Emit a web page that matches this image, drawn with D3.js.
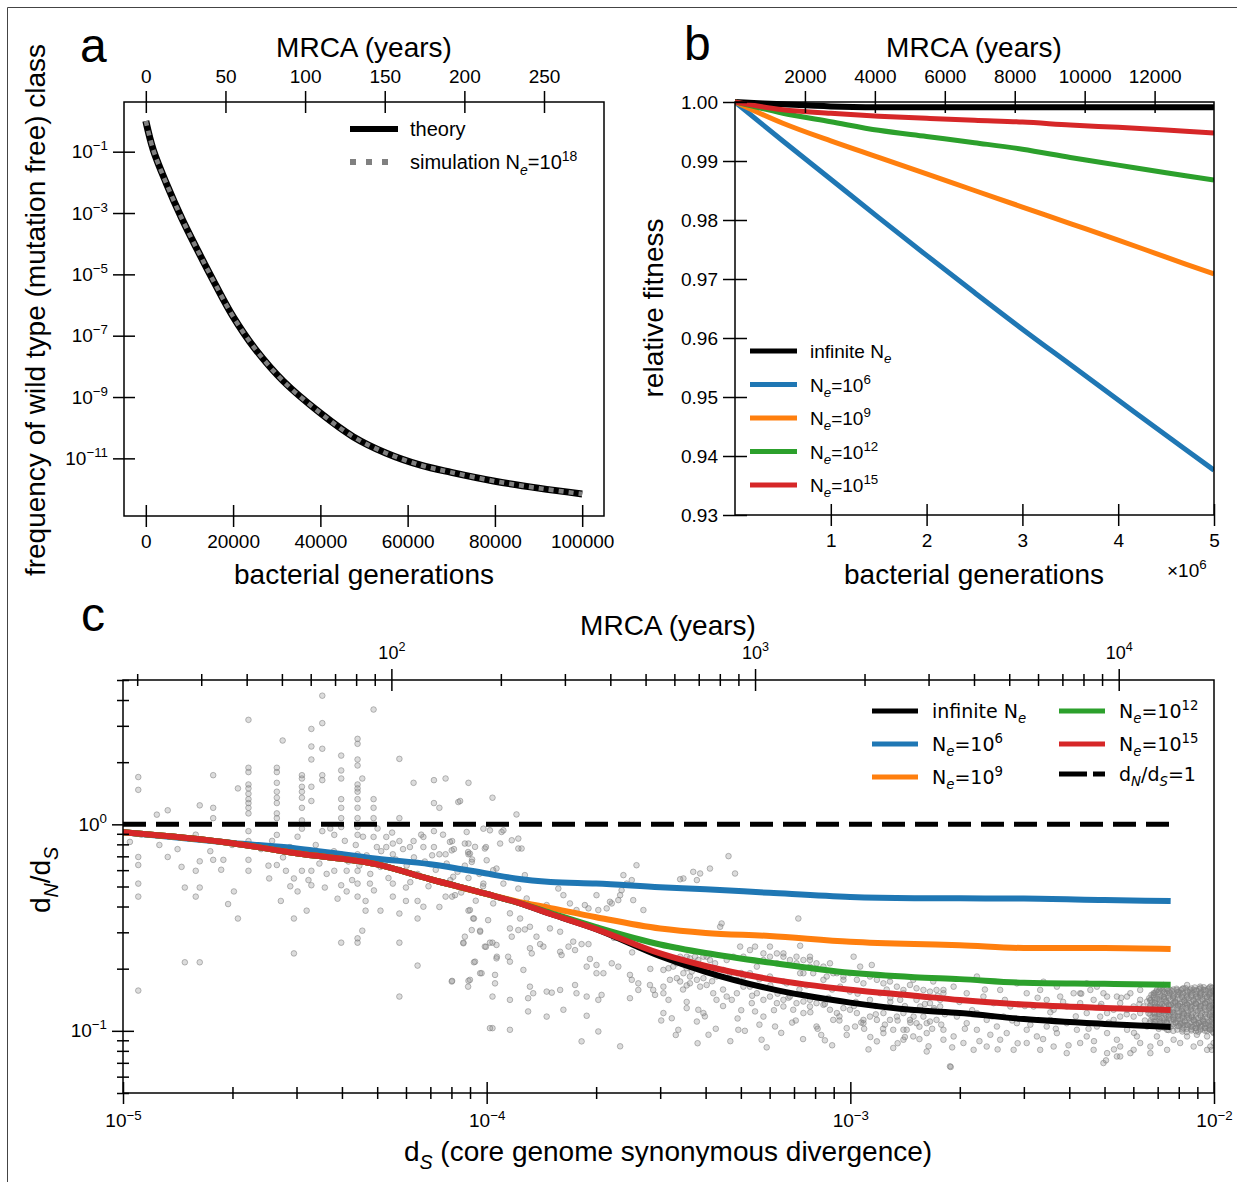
<!DOCTYPE html>
<html>
<head>
<meta charset="utf-8">
<script src="https://cdn.jsdelivr.net/npm/d3@7"></script>
<style>
  body { margin: 0; background: #fff; }
  svg { display: block; }
</style>
</head>
<body>
<script>
// ---------- data ----------
// panel a: frequency of the mutation-free class vs generations
const genA = [0, 1700, 4700, 8200, 12000, 15800, 20000, 25000, 31500, 40000, 47500, 55000, 63000, 70000, 80000, 90000, 100000];
const theoryA = [1, 0.115, 9.3e-3, 6.9e-4, 5.6e-5, 5.1e-6, 4.2e-7, 3.8e-8, 3.3e-9, 3.0e-10, 5.1e-11, 1.5e-11, 6.0e-12, 3.5e-12, 1.8e-12, 1.07e-12, 6.9e-13];
const simulationA = [1, 0.115, 9.3e-3, 6.9e-4, 5.6e-5, 5.1e-6, 4.2e-7, 3.8e-8, 3.3e-9, 3.0e-10, 5.1e-11, 1.5e-11, 6.0e-12, 3.5e-12, 1.8e-12, 1.07e-12, 6.9e-13];
const topTicksA = [0, 50, 100, 150, 200, 250];
const bottomTicksA = [0, 20000, 40000, 60000, 80000, 100000];
const yTicksA = [1e-1, 1e-3, 1e-5, 1e-7, 1e-9, 1e-11];

// panel b: relative fitness vs generations
const genB = [0, 0.5e6, 1e6, 1.5e6, 2e6, 2.5e6, 3e6, 3.5e6, 4e6, 4.5e6, 5e6];
const fitInf = [1.0, 0.9996, 0.99925, 0.9991, 0.9991, 0.9991, 0.9991, 0.9991, 0.9991, 0.9991, 0.9991];
const fit6   = [1.0, 0.9934, 0.9869, 0.9804, 0.9740, 0.9677, 0.9615, 0.9555, 0.9495, 0.9435, 0.9376];
const fit9   = [1.0, 0.9964, 0.9934, 0.9906, 0.9878, 0.9850, 0.9822, 0.9794, 0.9766, 0.9737, 0.97085];
const fit12  = [1.0, 0.9981, 0.99665, 0.9952, 0.99415, 0.9931, 0.9920, 0.9906, 0.9893, 0.9880, 0.98678];
const fit15  = [1.0, 0.9987, 0.9981, 0.9976, 0.99725, 0.9969, 0.9966, 0.9961, 0.9957, 0.99525, 0.99475];
const topTicksB = [2000, 4000, 6000, 8000, 10000, 12000];
const bottomTicksB = [1e6, 2e6, 3e6, 4e6, 5e6];
const yTicksB = [0.93, 0.94, 0.95, 0.96, 0.97, 0.98, 0.99, 1.00];

// panel c: dN/dS vs dS
const dsC = [1e-5, 2e-5, 3e-5, 5e-5, 7e-5, 1e-4, 1.2e-4, 1.5e-4, 2e-4, 3e-4, 4e-4, 6e-4, 1e-3, 1.5e-3, 2e-3, 3e-3, 5e-3, 7.6e-3];
const dndsInf = [0.915, 0.81, 0.724, 0.64, 0.542, 0.46, 0.421, 0.368, 0.311, 0.230, 0.193, 0.160, 0.137, 0.126, 0.122, 0.114, 0.108, 0.1045];
const dnds6   = [0.915, 0.812, 0.765, 0.682, 0.641, 0.578, 0.547, 0.526, 0.517, 0.496, 0.485, 0.466, 0.445, 0.439, 0.438, 0.437, 0.430, 0.425];
const dnds9   = [0.915, 0.81, 0.724, 0.64, 0.542, 0.46, 0.425, 0.393, 0.355, 0.313, 0.298, 0.288, 0.270, 0.263, 0.260, 0.252, 0.252, 0.249];
const dnds12  = [0.915, 0.81, 0.724, 0.64, 0.542, 0.46, 0.421, 0.372, 0.318, 0.262, 0.238, 0.214, 0.191, 0.182, 0.178, 0.171, 0.169, 0.167];
const dnds15  = [0.915, 0.81, 0.724, 0.64, 0.542, 0.46, 0.421, 0.368, 0.311, 0.237, 0.206, 0.178, 0.158, 0.148, 0.141, 0.134, 0.129, 0.126];
const neutralDs = [1e-5, 7.6e-3];
const neutralDnds = [1, 1];
const yearsPerDs = 1 / 5.47e-7; // MRCA years per unit of dS (top axis)

// genome pairs, [log10 dS, log10 dN/dS]
const scatterSparse = [[-4.958,0.229],[-4.958,0.167],[-4.981,-0.085],[-4.958,-0.158],[-4.958,-0.197],[-4.958,-0.287],[-4.958,-0.350],[-4.958,-0.805],[-4.907,0.047],[-4.877,0.068],[-4.877,-0.158],[-4.839,-0.206],[-4.830,-0.306],[-4.800,-0.225],[-4.800,-0.350],[-4.789,0.092],[-4.789,-0.306],[-4.789,-0.179],[-4.789,-0.668],[-4.830,-0.668],[-4.752,0.238],[-4.752,0.080],[-4.752,0.030],[-4.752,-0.172],[-4.724,-0.172],[-4.711,-0.386],[-4.695,-0.325],[-4.684,-0.456],[-4.684,0.174],[-4.655,0.274],[-4.655,0.253],[-4.655,0.193],[-4.655,0.174],[-4.655,0.148],[-4.655,0.122],[-4.655,0.103],[-4.655,0.080],[-4.655,0.053],[-4.655,-0.033],[-4.655,-0.081],[-4.655,-0.172],[-4.655,-0.225],[-4.655,0.506],[-4.598,-0.262],[-4.577,0.274],[-4.577,0.253],[-4.577,0.201],[-4.577,0.158],[-4.577,0.129],[-4.577,0.103],[-4.577,0.053],[-4.577,0.030],[-4.577,-0.051],[-4.577,-0.197],[-4.566,-0.371],[-4.561,0.406],[-4.552,-0.225],[-4.541,-0.110],[-4.530,-0.262],[-4.530,-0.456],[-4.530,-0.625],[-4.520,-0.325],[-4.508,0.238],[-4.508,0.182],[-4.508,0.158],[-4.508,0.129],[-4.508,0.080],[-4.508,0.019],[-4.508,-0.021],[-4.508,0.222],[-4.508,-0.225],[-4.495,-0.418],[-4.482,-0.295],[-4.482,0.377],[-4.482,0.314],[-4.482,0.182],[-4.482,0.113],[-4.482,-0.225],[-4.482,0.462],[-4.452,0.490],[-4.452,0.623],[-4.452,0.238],[-4.452,0.214],[-4.452,-0.033],[-4.445,-0.306],[-4.452,0.366],[-4.419,-0.051],[-4.419,-0.225],[-4.400,0.333],[-4.400,0.261],[-4.400,0.222],[-4.400,0.122],[-4.400,0.080],[-4.400,0.030],[-4.400,-0.013],[-4.400,-0.145],[-4.400,-0.295],[-4.400,-0.573],[-4.385,-0.225],[-4.385,-0.325],[-4.355,0.414],[-4.355,0.390],[-4.355,0.314],[-4.355,0.285],[-4.355,0.193],[-4.355,0.174],[-4.355,0.158],[-4.355,0.122],[-4.355,0.080],[-4.355,0.030],[-4.355,-0.013],[-4.355,-0.051],[-4.355,-0.145],[-4.355,-0.225],[-4.355,-0.287],[-4.355,-0.350],[-4.355,-0.573],[-4.355,-0.552],[-4.342,-0.515],[-4.342,0.222],[-4.333,-0.418],[-4.333,-0.371],[-4.321,-0.287],[-4.311,0.556],[-4.311,0.122],[-4.311,0.080],[-4.311,0.030],[-4.311,-0.061],[-4.302,-0.110],[-4.292,-0.206],[-4.292,-0.418],[-4.276,-0.061],[-4.276,-0.110],[-4.258,-0.145],[-4.258,-0.287],[-4.258,-0.350],[-4.258,-0.093],[-4.240,0.030],[-4.240,-0.573],[-4.240,0.317],[-4.240,-0.432],[-4.240,-0.834],[-4.240,-0.081],[-4.222,-0.306],[-4.222,-0.371],[-4.211,-0.110],[-4.201,0.201],[-4.201,-0.081],[-4.190,-0.684],[-4.190,-0.456],[-4.190,-0.371],[-4.174,-0.061],[-4.174,-0.110],[-4.174,-0.399],[-4.145,0.103],[-4.145,-0.033],[-4.145,-0.110],[-4.145,0.214],[-4.130,0.080],[-4.130,-0.145],[-4.113,-0.145],[-4.113,-0.350],[-4.113,0.222],[-4.095,-0.758],[-4.095,-0.350],[-4.095,-0.081],[-4.073,0.113],[-4.064,-0.573],[-4.050,0.201],[-4.050,-0.093],[-4.050,-0.145],[-4.050,-0.418],[-4.050,-0.758],[-4.035,-0.456],[-4.035,-0.668],[-4.018,-0.515],[-4.018,-0.721],[-4.002,-0.593],[-4.002,-0.110],[-3.984,-0.834],[-3.984,-0.987],[-3.984,0.129],[-3.984,-0.573],[-3.972,-0.641],
[-4.62,-0.12],[-4.60,-0.20],[-4.59,-0.08],[-4.56,-0.16],[-4.54,-0.30],[-4.52,-0.06],[-4.50,-0.14],[-4.49,-0.27],[-4.47,-0.10],[-4.46,-0.19],[-4.44,-0.24],[-4.43,-0.02],[-4.42,-0.13],[-4.41,-0.36],[-4.39,-0.08],[-4.38,-0.18],[-4.37,-0.27],[-4.36,-0.10],[-4.35,-0.20],[-4.34,-0.06],[-4.33,-0.15],[-4.32,-0.24],[-4.31,-0.32],[-4.30,-0.02],[-4.29,-0.13],[-4.28,-0.19],[-4.27,-0.26],[-4.26,-0.04],[-4.25,-0.17],[-4.24,-0.22],[-4.23,-0.12],[-4.22,-0.20],[-4.21,-0.28],[-4.20,-0.16],[-4.19,-0.24],[-4.18,-0.05],[-4.17,-0.18],[-4.16,-0.30],[-4.15,-0.15],[-4.14,-0.22],[-4.13,-0.40],[-4.12,-0.05],[-4.11,-0.19],[-4.10,-0.27],[-4.09,-0.12],[-4.08,-0.23],[-4.07,-0.33],[-4.06,-0.20],[-4.05,-0.26],[-4.04,-0.17],[-4.03,-0.37],[-4.02,-0.24],[-4.01,-0.30],[-4.70,-0.10],[-4.73,-0.22],[-4.76,-0.13],[-4.80,-0.05],[-4.85,-0.12],[-4.90,-0.10],[-4.95,-0.05]];

const scatterMid = [[-4.078,0.108],[-3.918,0.048],[-4.055,-0.037],[-4.009,-0.021],[-3.991,-0.029],[-3.959,-0.037],[-3.954,-0.029],[-4.101,-0.085],[-4.060,-0.093],[-4.096,-0.126],[-4.051,-0.134],[-4.046,-0.142],[-4.032,-0.109],[-4.005,-0.117],[-3.963,-0.093],[-3.931,-0.077],[-3.913,-0.069],[-3.913,-0.117],[-3.904,-0.117],[-4.000,-0.174],[-4.041,-0.182],[-3.982,-0.222],[-3.973,-0.214],[-4.092,-0.254],[-4.009,-0.287],[-3.954,-0.287],[-3.895,-0.246],[-4.087,-0.343],[-3.913,-0.311],[-3.890,-0.359],[-3.982,-0.383],[-4.046,-0.415],[-4.037,-0.456],[-3.996,-0.464],[-3.936,-0.431],[-3.908,-0.456],[-3.835,-0.391],[-3.826,-0.504],[-3.881,-0.496],[-3.913,-0.512],[-3.895,-0.509],[-4.041,-0.512],[-4.018,-0.520],[-4.060,-0.544],[-4.064,-0.576],[-4.005,-0.592],[-3.991,-0.573],[-3.973,-0.584],[-3.936,-0.504],[-3.931,-0.544],[-3.941,-0.641],[-3.973,-0.649],[-4.032,-0.665],[-3.936,-0.665],[-3.863,-0.544],[-3.844,-0.592],[-3.853,-0.580],[-3.881,-0.600],[-3.876,-0.625],[-3.798,-0.520],[-3.762,-0.568],[-3.757,-0.609],[-3.798,-0.617],[-3.794,-0.633],[-3.775,-0.592],[-3.739,-0.580],[-3.720,-0.580],[-3.716,-0.652],[-3.698,-0.681],[-3.656,-0.673],[-3.679,-0.721],[-3.725,-0.689],[-3.899,-0.705],[-3.977,-0.729],[-4.014,-0.721],[-3.977,-0.770],[-4.046,-0.753],[-4.051,-0.786],[-4.096,-0.761],[-3.936,-0.850],[-3.881,-0.786],[-3.872,-0.818],[-3.886,-0.842],[-3.835,-0.810],[-3.821,-0.815],[-3.798,-0.802],[-3.757,-0.778],[-3.753,-0.818],[-3.725,-0.834],[-3.693,-0.850],[-3.684,-0.826],[-3.698,-0.721],[-3.638,-0.689],[-3.606,-0.729],[-3.601,-0.753],[-3.583,-0.770],[-3.606,-0.842],[-3.583,-0.802],[-3.551,-0.778],[-3.542,-0.802],[-3.514,-0.786],[-3.514,-0.818],[-3.537,-0.826],[-3.496,-0.753],[-3.886,-0.906],[-3.835,-0.931],[-3.789,-0.898],[-3.725,-0.927],[-3.991,-0.987],[-3.936,-0.995],[-3.693,-1.003],[-3.739,-1.051],[-3.633,-1.075],[-3.588,-0.198],[-3.624,-0.246],[-3.629,-0.319],[-3.638,-0.367],[-3.633,-0.343],[-3.698,-0.343],[-3.656,-0.383],[-3.661,-0.375],[-3.670,-0.407],[-3.693,-0.415],[-3.720,-0.407],[-3.730,-0.391],[-3.753,-0.415],[-3.771,-0.383],[-3.789,-0.343],[-3.803,-0.311],[-3.569,-0.415],[-3.597,-0.367],[-3.615,-0.287],[-3.601,-0.270],[-3.459,-0.262],[-3.468,-0.266],[-3.422,-0.270],[-3.432,-0.230],[-3.413,-0.238],[-3.386,-0.214],[-3.335,-0.154],[-3.317,-0.238],[-3.354,-0.480],[-3.358,-0.496],[-3.143,-0.456],[-3.138,-0.588],
[-3.514,-0.705],[-3.500,-0.697],[-3.487,-0.689],[-3.477,-0.673],[-3.468,-0.641],[-3.459,-0.657],[-3.450,-0.641],[-3.441,-0.649],[-3.427,-0.641],[-3.418,-0.657],[-3.404,-0.641],[-3.395,-0.641],[-3.386,-0.657],[-3.372,-0.673],[-3.459,-0.721],[-3.441,-0.737],[-3.422,-0.753],[-3.404,-0.745],[-3.477,-0.745],[-3.468,-0.761],[-3.441,-0.770],[-3.413,-0.786],[-3.395,-0.778],[-3.368,-0.737],[-3.349,-0.705],[-3.331,-0.721],[-3.312,-0.753],[-3.294,-0.737],[-3.276,-0.721],[-3.257,-0.689],[-3.239,-0.657],[-3.221,-0.641],[-3.202,-0.625],[-3.184,-0.641],[-3.166,-0.657],[-3.148,-0.673],[-3.129,-0.657],[-3.111,-0.641],[-3.093,-0.673],[-3.074,-0.689],[-3.056,-0.673],[-3.037,-0.721],[-3.019,-0.753],[-3.001,-0.721],[-2.982,-0.753],[-2.964,-0.770],[-2.946,-0.737],[-2.927,-0.753],[-2.909,-0.770],[-2.891,-0.761],[-2.872,-0.786],[-2.854,-0.802],[-2.836,-0.778],[-2.818,-0.794],[-2.799,-0.802],[-2.781,-0.810],[-2.763,-0.802],[-2.744,-0.818],[-3.276,-0.786],[-3.257,-0.818],[-3.239,-0.850],[-3.221,-0.834],[-3.202,-0.866],[-3.184,-0.850],[-3.166,-0.834],[-3.148,-0.866],[-3.129,-0.858],[-3.111,-0.882],[-3.093,-0.866],[-3.074,-0.874],[-3.056,-0.898],[-3.037,-0.914],[-3.019,-0.890],[-3.001,-0.898],[-2.982,-0.914],[-2.964,-0.947],[-2.946,-0.931],[-2.927,-0.947],[-2.909,-0.914],[-2.891,-0.947],[-2.872,-0.931],[-2.854,-0.914],[-2.836,-0.947],[-2.818,-0.963],[-2.799,-0.931],[-2.781,-0.955],[-2.763,-0.947],[-2.744,-0.995],[-2.909,-1.011],[-2.882,-0.995],[-2.854,-0.995],[-2.827,-1.027],[-2.790,-1.011],[-2.927,-1.051],[-2.882,-1.083],[-2.854,-1.043],[-2.785,-1.075],[-2.744,-1.043],[-3.093,-0.979],[-3.070,-1.046],[-3.047,-0.947],[-3.010,-0.987],[-2.987,-0.979],[-2.964,-0.963],[-3.244,-1.043],[-3.207,-0.979],[-3.308,-0.995],[-3.390,-1.019],[-3.422,-0.955],[-3.473,-0.995],[-3.491,-0.939],[-3.450,-0.890],[-3.418,-0.898],[-3.404,-0.914],[-3.514,-0.914],[-3.368,-0.850],[-3.377,-0.818],[-3.340,-0.834],[-3.326,-0.850],[-3.312,-0.818],[-3.294,-0.786],[-3.271,-0.866],[-3.262,-0.906],[-3.239,-0.931],[-3.184,-0.882],[-3.157,-0.898],[-3.129,-0.914],[-3.111,-0.850],[-3.184,-0.761],[-3.138,-0.721],[-3.111,-0.689],[-3.065,-0.737],[-3.028,-0.786],[-3.001,-0.810],[-2.946,-0.850],[-2.918,-0.818],[-2.863,-0.850],[-2.818,-0.850],[-2.781,-0.866],[-2.753,-0.882],[-2.726,-1.172],[-3.175,-0.770],[-3.221,-0.737],[-3.294,-0.641],[-3.276,-0.609],[-3.239,-0.625],[-3.202,-0.673],[-2.991,-0.641],[-2.941,-0.681],[-3.111,-0.657],[-3.129,-0.721],[-3.047,-0.721],[-2.973,-0.689],[-2.891,-0.737],[-2.827,-0.753],[-2.772,-0.761],[-3.450,-0.697],[-3.436,-0.713],[-3.404,-0.705],[-3.377,-0.705],[-3.340,-0.657],[-3.322,-0.641],[-3.303,-0.592],[-3.262,-0.592],[-3.221,-0.592],[-3.184,-0.625],[-3.148,-0.641],[-3.102,-0.721],[-3.074,-0.753],[-3.019,-0.737],
[-3.05,-0.80],[-3.03,-0.95],[-3.08,-1.02],[-3.12,-0.78],[-3.16,-0.96],[-3.20,-0.82],[-3.25,-0.75],[-3.30,-0.90],[-3.35,-0.80],[-3.40,-0.70],[-3.45,-0.78],[-3.50,-0.85],[-3.55,-0.70],[-3.60,-0.62],[-3.65,-0.55],
[-3.52,-0.95],[-3.48,-1.02],[-3.45,-0.86],[-3.42,-1.06],[-3.40,-0.93],[-3.37,-0.99],[-3.35,-0.88],[-3.33,-1.05],[-3.31,-0.94],[-3.29,-1.00],[-3.27,-0.83],[-3.25,-0.97],[-3.23,-1.08],[-3.21,-0.90],[-3.19,-1.01],[-3.17,-0.84],[-3.15,-0.95],[-3.13,-1.04],[-3.11,-0.91],[-3.09,-0.99],[-3.07,-0.87],[-3.05,-1.07],[-3.03,-0.93],[-3.01,-1.02],[-2.99,-0.88],[-2.97,-0.96],[-2.95,-1.09],[-2.93,-0.92],[-2.91,-0.99],[-2.89,-0.86],[-2.87,-0.95],[-2.85,-1.03],[-2.83,-0.90],[-2.81,-0.98],[-2.79,-1.10],[-2.77,-0.89],[-2.75,-0.97],[-3.46,-0.80],[-3.38,-0.76],[-3.30,-0.72],[-3.22,-0.78],[-3.14,-0.80],[-3.06,-0.84],[-2.98,-0.82],[-2.90,-0.80]];

const scatterDense = [[-2.716,-0.786],[-2.680,-0.818],[-2.652,-0.737],[-2.634,-0.834],[-2.606,-0.866],[-2.588,-0.802],[-2.560,-0.882],[-2.542,-0.770],[-2.515,-0.818],[-2.496,-0.882],[-2.478,-0.802],[-2.460,-0.850],[-2.441,-0.898],[-2.423,-0.834],[-2.405,-0.882],[-2.386,-0.818],[-2.368,-0.866],[-2.350,-0.914],[-2.331,-0.850],[-2.313,-0.882],[-2.294,-0.834],[-2.276,-0.898],[-2.258,-0.866],[-2.239,-0.834],[-2.221,-0.882],[-2.203,-0.850],[-2.184,-0.898],[-2.166,-0.834],[-2.707,-0.931],[-2.680,-0.963],[-2.652,-0.995],[-2.625,-0.947],[-2.597,-0.979],[-2.570,-1.011],[-2.542,-0.963],[-2.515,-0.995],[-2.487,-1.027],[-2.460,-0.979],[-2.432,-1.011],[-2.405,-0.963],[-2.377,-0.995],[-2.350,-1.027],[-2.322,-0.979],[-2.294,-1.011],[-2.267,-1.043],[-2.239,-0.995],[-2.212,-1.027],[-2.184,-0.979],[-2.157,-1.027],[-2.129,-0.995],[-2.716,-1.027],[-2.689,-1.059],[-2.661,-1.092],[-2.625,-1.076],[-2.588,-1.043],[-2.551,-1.092],[-2.515,-1.059],[-2.478,-1.092],[-2.441,-1.076],[-2.405,-1.108],[-2.368,-1.059],[-2.331,-1.092],[-2.294,-1.108],[-2.258,-1.076],[-2.221,-1.092],[-2.175,-1.108],[-2.129,-1.092],[-2.093,-1.059],[-2.056,-1.076],[-2.019,-1.092],[-2.724,-1.175],[-2.297,-1.143],[-2.267,-1.124],[-2.615,-1.019],[-2.579,-0.931],[-2.450,-0.947],[-2.350,-0.770],[-2.322,-0.786],[-2.469,-0.762],[-2.652,-0.914],[-2.744,-0.802],[-2.753,-0.850],[-2.771,-0.898],[-2.790,-0.963],[-2.808,-0.882],[-2.826,-0.931],[-2.845,-0.995],[-2.854,-0.818],
[-2.175,-0.850],[-2.166,-0.818],[-2.157,-0.802],[-2.148,-0.834],[-2.139,-0.794],[-2.129,-0.818],[-2.120,-0.802],[-2.111,-0.834],[-2.102,-0.802],[-2.093,-0.818],[-2.084,-0.794],[-2.074,-0.834],[-2.065,-0.810],[-2.056,-0.802],[-2.047,-0.834],[-2.038,-0.818],[-2.029,-0.802],[-2.019,-0.834],[-2.010,-0.818],[-2.001,-0.810],[-2.175,-0.882],[-2.162,-0.866],[-2.148,-0.882],[-2.134,-0.858],[-2.120,-0.874],[-2.106,-0.866],[-2.093,-0.882],[-2.079,-0.866],[-2.065,-0.882],[-2.051,-0.866],[-2.038,-0.882],[-2.024,-0.866],[-2.010,-0.882],[-2.001,-0.874],[-2.166,-0.914],[-2.152,-0.931],[-2.139,-0.906],[-2.125,-0.922],[-2.111,-0.914],[-2.097,-0.931],[-2.084,-0.914],[-2.070,-0.931],[-2.056,-0.947],[-2.042,-0.963],[-2.029,-0.955],[-2.015,-0.971],[-2.001,-0.963],[-2.065,-0.979],[-2.051,-0.987],[-2.038,-0.979],[-2.024,-0.987],[-2.010,-0.995],[-2.148,-0.963],[-2.129,-0.955],[-2.111,-0.947],[-2.093,-0.963],[-2.166,-0.955],[-2.139,-0.979],[-2.084,-0.971],[-2.184,-0.858],[-2.194,-0.882],[-2.203,-0.914],[-2.221,-0.931],[-2.239,-0.898],[-2.258,-0.931],[-2.276,-0.947],[-2.294,-0.914],[-2.313,-0.931],[-2.203,-0.802],[-2.230,-0.818],[-2.267,-0.834],[-2.304,-0.818],[-2.340,-0.802],[-2.368,-0.818],[-2.432,-0.786],[-2.139,-0.778],[-2.074,-0.778],[-2.038,-0.786],[-2.010,-0.786],[-2.001,-0.898],[-2.006,-0.931],[-2.001,-1.011],[-2.019,-1.027],[-2.047,-1.019],[-2.001,-1.059],[-2.006,-1.092],[-2.010,-1.076],[-2.038,-1.059],[-2.074,-1.027],[-2.111,-1.043],[-2.148,-1.059],[-2.175,-1.076],[-2.203,-1.059],[-2.230,-1.108],[-2.258,-1.124],[-2.304,-1.156],
[-2.985,-0.86],[-2.962,-0.99],[-2.945,-1.03],[-2.93,-0.88],[-2.905,-0.97],[-2.89,-0.84],[-2.87,-1.06],[-2.85,-0.88],[-2.835,-0.96],[-2.81,-1.04],[-2.795,-0.87],[-2.775,-0.99],[-2.76,-0.83],[-2.74,-0.92],[-2.72,-1.08],[-2.70,-0.86],[-2.685,-0.99],[-2.665,-0.90],[-2.645,-1.05],[-2.63,-0.80],[-2.61,-0.93],[-2.595,-1.09],[-2.575,-0.85],[-2.555,-0.95],[-2.54,-1.06],[-2.52,-0.88],[-2.505,-0.97],[-2.485,-0.84],[-2.47,-1.04],[-2.45,-0.91],[-2.435,-0.99],[-2.415,-0.86],[-2.40,-1.07],[-2.38,-0.93],[-2.365,-0.82],[-2.345,-0.99],[-2.33,-1.05],[-2.31,-0.87],[-2.29,-0.96],[-2.275,-1.09],[-2.255,-0.84],[-2.24,-0.92],[-2.22,-1.01],[-2.205,-0.87],[-2.19,-0.95]];

// saturated cloud at the largest dS (estimated positions)
const scatterCloud = [[-2.178,-0.842],[-2.176,-0.879],[-2.180,-0.915],[-2.174,-0.951],[-2.166,-0.826],[-2.163,-0.861],[-2.168,-0.897],[-2.161,-0.933],[-2.165,-0.968],[-2.153,-0.812],[-2.150,-0.848],[-2.155,-0.884],[-2.151,-0.919],[-2.148,-0.956],[-2.152,-0.990],[-2.141,-0.805],[-2.138,-0.836],[-2.143,-0.871],[-2.139,-0.906],[-2.136,-0.941],[-2.142,-0.977],[-2.129,-0.799],[-2.126,-0.830],[-2.131,-0.862],[-2.127,-0.895],[-2.124,-0.928],[-2.130,-0.962],[-2.125,-0.996],[-2.116,-0.808],[-2.113,-0.841],[-2.118,-0.875],[-2.114,-0.909],[-2.111,-0.943],[-2.117,-0.978],[-2.103,-0.796],[-2.100,-0.828],[-2.106,-0.861],[-2.102,-0.893],[-2.099,-0.927],[-2.104,-0.960],[-2.101,-0.994],[-2.091,-0.803],[-2.088,-0.836],[-2.093,-0.869],[-2.089,-0.902],[-2.086,-0.935],[-2.092,-0.969],[-2.087,-1.003],[-2.078,-0.794],[-2.076,-0.826],[-2.081,-0.858],[-2.077,-0.890],[-2.074,-0.923],[-2.079,-0.956],[-2.075,-0.990],[-2.066,-0.801],[-2.063,-0.833],[-2.068,-0.866],[-2.064,-0.899],[-2.061,-0.932],[-2.067,-0.965],[-2.062,-0.998],[-2.053,-0.790],[-2.050,-0.822],[-2.056,-0.855],[-2.052,-0.888],[-2.049,-0.921],[-2.054,-0.954],[-2.050,-0.987],[-2.041,-0.798],[-2.038,-0.830],[-2.043,-0.863],[-2.039,-0.896],[-2.036,-0.929],[-2.042,-0.962],[-2.037,-0.995],[-2.028,-0.789],[-2.026,-0.821],[-2.031,-0.853],[-2.027,-0.886],[-2.024,-0.919],[-2.029,-0.952],[-2.025,-0.985],[-2.016,-0.796],[-2.013,-0.828],[-2.018,-0.861],[-2.014,-0.894],[-2.011,-0.927],[-2.017,-0.960],[-2.012,-0.993],[-2.005,-0.792],[-2.003,-0.824],[-2.007,-0.857],[-2.004,-0.890],[-2.002,-0.923],[-2.006,-0.956],[-2.003,-0.989],
[-2.172,-0.826],[-2.170,-0.862],[-2.173,-0.898],[-2.169,-0.934],[-2.159,-0.810],[-2.157,-0.845],[-2.160,-0.881],[-2.156,-0.916],[-2.158,-0.952],[-2.147,-0.796],[-2.144,-0.831],[-2.148,-0.867],[-2.145,-0.902],[-2.143,-0.938],[-2.146,-0.973],[-2.135,-0.820],[-2.132,-0.853],[-2.136,-0.888],[-2.133,-0.923],[-2.131,-0.958],[-2.122,-0.814],[-2.120,-0.846],[-2.123,-0.879],[-2.121,-0.911],[-2.119,-0.945],[-2.122,-0.979],[-2.110,-0.824],[-2.107,-0.858],[-2.111,-0.892],[-2.108,-0.926],[-2.106,-0.960],[-2.097,-0.812],[-2.094,-0.845],[-2.098,-0.877],[-2.095,-0.910],[-2.093,-0.944],[-2.096,-0.977],[-2.085,-0.819],[-2.082,-0.852],[-2.086,-0.885],[-2.083,-0.918],[-2.081,-0.952],[-2.084,-0.986],[-2.072,-0.810],[-2.070,-0.842],[-2.073,-0.874],[-2.071,-0.906],[-2.069,-0.939],[-2.072,-0.973],[-2.060,-0.817],[-2.057,-0.849],[-2.061,-0.882],[-2.058,-0.915],[-2.056,-0.948],[-2.059,-0.981],[-2.047,-0.806],[-2.044,-0.838],[-2.048,-0.871],[-2.045,-0.904],[-2.043,-0.937],[-2.046,-0.970],[-2.043,-1.004],[-2.035,-0.814],[-2.032,-0.846],[-2.036,-0.879],[-2.033,-0.912],[-2.031,-0.945],[-2.034,-0.978],[-2.022,-0.805],[-2.020,-0.837],[-2.023,-0.869],[-2.021,-0.902],[-2.019,-0.935],[-2.022,-0.968],[-2.019,-1.001],[-2.010,-0.812],[-2.008,-0.844],[-2.011,-0.877],[-2.009,-0.910],[-2.007,-0.943],[-2.010,-0.976],
[-2.175,-0.853],[-2.175,-0.888],[-2.175,-0.922],[-2.175,-0.960],[-2.163,-0.818],[-2.163,-0.851],[-2.163,-0.887],[-2.163,-0.921],[-2.163,-0.957],[-2.150,-0.803],[-2.150,-0.838],[-2.150,-0.873],[-2.150,-0.907],[-2.150,-0.944],[-2.150,-0.979],[-2.137,-0.812],[-2.137,-0.846],[-2.137,-0.881],[-2.137,-0.915],[-2.137,-0.950],[-2.137,-0.985],[-2.125,-0.806],[-2.125,-0.840],[-2.125,-0.873],[-2.125,-0.907],[-2.125,-0.941],[-2.125,-0.976],[-2.112,-0.800],[-2.112,-0.833],[-2.112,-0.867],[-2.112,-0.900],[-2.112,-0.934],[-2.112,-0.968],[-2.112,-1.000],[-2.100,-0.811],[-2.100,-0.844],[-2.100,-0.877],[-2.100,-0.911],[-2.100,-0.944],[-2.100,-0.977],[-2.087,-0.797],[-2.087,-0.829],[-2.087,-0.861],[-2.087,-0.894],[-2.087,-0.927],[-2.087,-0.960],[-2.087,-0.993],[-2.075,-0.806],[-2.075,-0.838],[-2.075,-0.872],[-2.075,-0.905],[-2.075,-0.938],[-2.075,-0.971],[-2.075,-1.006],[-2.062,-0.795],[-2.062,-0.827],[-2.062,-0.860],[-2.062,-0.893],[-2.062,-0.926],[-2.062,-0.959],[-2.062,-0.992],[-2.050,-0.804],[-2.050,-0.836],[-2.050,-0.869],[-2.050,-0.902],[-2.050,-0.935],[-2.050,-0.968],[-2.050,-1.001],[-2.037,-0.793],[-2.037,-0.825],[-2.037,-0.858],[-2.037,-0.891],[-2.037,-0.924],[-2.037,-0.957],[-2.037,-0.990],[-2.025,-0.802],[-2.025,-0.834],[-2.025,-0.867],[-2.025,-0.900],[-2.025,-0.933],[-2.025,-0.966],[-2.025,-0.999],[-2.012,-0.791],[-2.012,-0.823],[-2.012,-0.856],[-2.012,-0.889],[-2.012,-0.922],[-2.012,-0.955],[-2.012,-0.988],[-2.003,-0.806],[-2.003,-0.840],[-2.003,-0.873],[-2.003,-0.906],[-2.003,-0.939],[-2.003,-0.972],[-2.003,-1.005]];

// ---------- drawing ----------
const W = 1237, H = 1182;
const FONT = "'Liberation Sans', Arial, Helvetica, sans-serif";
const MATH = "'DejaVu Sans', sans-serif";
const C = { inf: "#000000", n6: "#1f77b4", n9: "#ff7f0e", n12: "#2ca02c", n15: "#d62728" };

const svg = d3.select("body").append("svg")
  .attr("width", W).attr("height", H)
  .style("font-family", FONT);

// thin frame of the figure
svg.append("path").attr("d", "M7.5,1182 V7.5 H1237")
  .attr("fill", "none").attr("stroke", "#444").attr("stroke-width", 1);

// text with sub/superscripts; parts = [{t, sub, sup, it}], base = extra first-line shift
function rich(sel, parts, size, base) {
  let off = -(base || 0);
  parts.forEach(p => {
    const target = p.sub ? 0.28 * size : p.sup ? -0.42 * size : 0;
    const ts = sel.append("tspan").attr("dy", target - off).text(p.t);
    if (p.sub || p.sup) ts.attr("font-size", size * 0.7);
    if (p.it) ts.attr("font-style", "italic");
    off = target;
  });
  return sel;
}
function label(x, y, parts, size, anchor, family) {
  const t = svg.append("text").attr("x", x).attr("y", y)
    .attr("font-size", size).attr("text-anchor", anchor || "start")
    .attr("font-family", family || FONT);
  return rich(t, parts, size);
}
function pow10(d) {
  const e = Math.round(Math.log10(d));
  return [{ t: "10" }, { t: e < 0 ? "\u2212" + (-e) : String(e), sup: true }];
}
function ne(exp) {
  return [{ t: "N" }, { t: "e", sub: true, it: true }, { t: "=10" }, { t: exp, sup: true }];
}

// axis helper: ticks crossing the spine (in and out)
function drawAxis(maker, scale, values, pos, len, opts) {
  const o = opts || {};
  const size = o.size || 19;
  const ax = maker(scale).tickValues(values).tickSize(len).tickPadding(o.pad || 6);
  if (o.format) ax.tickFormat(o.format); else ax.tickFormat(() => "");
  const g = svg.append("g").attr("transform", pos).call(ax);
  g.select(".domain").remove();
  g.attr("font-family", FONT).attr("font-size", size);
  const lines = g.selectAll(".tick line").attr("stroke", "#000").attr("stroke-width", 1.5);
  if (maker === d3.axisBottom) lines.attr("y1", -len).attr("y2", len);
  if (maker === d3.axisTop) lines.attr("y1", len).attr("y2", -len);
  if (maker === d3.axisLeft) lines.attr("x1", len).attr("x2", -len);
  g.selectAll(".tick text").attr("fill", "#000");
  if (o.rich) {
    const base = maker === d3.axisBottom ? 0.71 * size : maker === d3.axisLeft ? 0.32 * size : 0;
    g.selectAll(".tick text").attr("dy", null).text(null).each(function (d) {
      rich(d3.select(this), o.rich(d), size, base);
    });
  }
  return g;
}
function box(b) {
  svg.append("rect").attr("x", b.left).attr("y", b.top)
    .attr("width", b.right - b.left).attr("height", b.bottom - b.top)
    .attr("fill", "none").attr("stroke", "#000").attr("stroke-width", 1.5);
}
function minorLog(lo, hi) {
  const out = [];
  for (let e = Math.floor(Math.log10(lo)); e <= Math.ceil(Math.log10(hi)); e++) {
    for (let k = 2; k <= 9; k++) {
      const v = k * Math.pow(10, e);
      if (v >= lo && v <= hi) out.push(v);
    }
  }
  return out;
}

// ================= panel a =================
const bA = { left: 124, right: 604, top: 102, bottom: 516 };
const xA = d3.scaleLinear().domain([-5000, 105000]).range([bA.left, bA.right]);
const xAy = d3.scaleLinear().domain([-5000 / 365, 105000 / 365]).range([bA.left, bA.right]);
const yA = d3.scaleLog().domain([1.32e-13, 4.17]).range([bA.bottom, bA.top]);

const lineA = d3.line().x(d => xA(d[0])).y(d => yA(d[1])).curve(d3.curveCatmullRom.alpha(0.5));
svg.append("path").datum(genA.map((g, i) => [g, theoryA[i]]))
  .attr("d", lineA).attr("fill", "none").attr("stroke", "#000").attr("stroke-width", 7);
svg.append("path").datum(genA.map((g, i) => [g, simulationA[i]]))
  .attr("d", lineA).attr("fill", "none").attr("stroke", "#808080").attr("stroke-width", 4.5)
  .attr("stroke-dasharray", "5,5");

box(bA);
drawAxis(d3.axisBottom, xA, bottomTicksA, `translate(0,${bA.bottom})`, 11, { format: d3.format("d"), pad: 8 });
drawAxis(d3.axisTop, xAy, topTicksA, `translate(0,${bA.top})`, 11, { format: d3.format("d"), pad: 8 });
drawAxis(d3.axisLeft, yA, yTicksA, `translate(${bA.left},0)`, 11, { rich: pow10, pad: 5 });

label(364, 57, [{ t: "MRCA (years)" }], 28, "middle");
label(364, 584, [{ t: "bacterial generations" }], 28, "middle");
svg.append("text").attr("transform", "translate(45,310) rotate(-90)")
  .attr("text-anchor", "middle").attr("font-size", 28)
  .text("frequency of wild type (mutation free) class");
label(80, 62, [{ t: "a" }], 48);

// legend a
svg.append("line").attr("x1", 350).attr("x2", 398).attr("y1", 129).attr("y2", 129)
  .attr("stroke", "#000").attr("stroke-width", 6);
svg.append("line").attr("x1", 350).attr("x2", 398).attr("y1", 162).attr("y2", 162)
  .attr("stroke", "#808080").attr("stroke-width", 6).attr("stroke-dasharray", "6,10");
label(410, 136, [{ t: "theory" }], 20);
label(410, 169, [{ t: "simulation N" }, { t: "e", sub: true, it: true }, { t: "=10" }, { t: "18", sup: true }], 20);

// ================= panel b =================
const bB = { left: 735, right: 1214, top: 102, bottom: 515 };
const xB = d3.scaleLinear().domain([0, 5e6]).range([bB.left, bB.right]);
const xBy = d3.scaleLinear().domain([0, 5e6 / 365]).range([bB.left, bB.right]);
const yB = d3.scaleLinear().domain([0.93, 1.0]).range([bB.bottom, bB.top]);

const seriesB = [
  { v: fitInf, c: C.inf, w: 6, name: [{ t: "infinite N" }, { t: "e", sub: true, it: true }] },
  { v: fit6, c: C.n6, w: 5, name: ne("6") },
  { v: fit9, c: C.n9, w: 5, name: ne("9") },
  { v: fit12, c: C.n12, w: 5, name: ne("12") },
  { v: fit15, c: C.n15, w: 5, name: ne("15") }
];
const lineB = d3.line().x(d => xB(d[0])).y(d => yB(d[1])).curve(d3.curveCatmullRom.alpha(0.5));
svg.append("clipPath").attr("id", "clipB").append("rect")
  .attr("x", bB.left).attr("y", bB.top - 4).attr("width", bB.right - bB.left).attr("height", bB.bottom - bB.top + 4);
seriesB.forEach(s => {
  svg.append("path").datum(genB.map((g, i) => [g, s.v[i]]))
    .attr("clip-path", "url(#clipB)")
    .attr("d", lineB).attr("fill", "none").attr("stroke", s.c).attr("stroke-width", s.w);
});
box(bB);
drawAxis(d3.axisBottom, xB, bottomTicksB, `translate(0,${bB.bottom})`, 11, { format: d => d / 1e6, pad: 8 });
drawAxis(d3.axisTop, xBy, topTicksB, `translate(0,${bB.top})`, 11, { format: d3.format("d"), pad: 8 });
drawAxis(d3.axisLeft, yB, yTicksB, `translate(${bB.left},0)`, 12, { format: d3.format(".2f"), pad: 5 });

label(1167, 577, [{ t: "\u00d710" }, { t: "6", sup: true }], 19);
label(974, 57, [{ t: "MRCA (years)" }], 28, "middle");
label(974, 584, [{ t: "bacterial generations" }], 28, "middle");
svg.append("text").attr("transform", "translate(663,308) rotate(-90)")
  .attr("text-anchor", "middle").attr("font-size", 28).text("relative fitness");
label(684, 60, [{ t: "b" }], 48);

seriesB.forEach((s, i) => {
  const y = 351 + i * 33.5;
  svg.append("line").attr("x1", 750).attr("x2", 797).attr("y1", y).attr("y2", y)
    .attr("stroke", s.c).attr("stroke-width", 5);
  label(810, y + 7, s.name, 19);
});

// ================= panel c =================
const bC = { left: 123, right: 1214, top: 680, bottom: 1093 };
const xC = d3.scaleLog().domain([1e-5, 1e-2]).range([bC.left, bC.right]);
const xCy = d3.scaleLog().domain([1e-5 * yearsPerDs, 1e-2 * yearsPerDs]).range([bC.left, bC.right]);
const yC = d3.scaleLog().domain([0.05, 5]).range([bC.bottom, bC.top]);

svg.append("clipPath").attr("id", "clipC").append("rect")
  .attr("x", bC.left).attr("y", bC.top).attr("width", bC.right - bC.left).attr("height", bC.bottom - bC.top);
const gC = svg.append("g").attr("clip-path", "url(#clipC)");

const allScatter = scatterSparse.concat(scatterMid, scatterDense, scatterCloud)
  .map(p => [Math.pow(10, p[0]), Math.pow(10, p[1])]);
gC.selectAll("circle.pt").data(allScatter).join("circle")
  .attr("class", "pt")
  .attr("cx", d => xC(d[0])).attr("cy", d => yC(d[1])).attr("r", 2.8)
  .attr("fill", "#808080").attr("fill-opacity", 0.28)
  .attr("stroke", "#808080").attr("stroke-opacity", 0.55).attr("stroke-width", 1);

const lineC = d3.line().x(d => xC(d[0])).y(d => yC(d[1])).curve(d3.curveMonotoneX);
const seriesC = [
  { v: dndsInf, c: C.inf, name: [{ t: "infinite N" }, { t: "e", sub: true, it: true }] },
  { v: dnds6, c: C.n6, name: ne("6") },
  { v: dnds9, c: C.n9, name: ne("9") },
  { v: dnds12, c: C.n12, name: ne("12") },
  { v: dnds15, c: C.n15, name: ne("15") }
];
seriesC.forEach(s => {
  gC.append("path").datum(dsC.map((d, i) => [d, s.v[i]]))
    .attr("d", lineC).attr("fill", "none").attr("stroke", s.c).attr("stroke-width", 6);
});
gC.append("path").datum(neutralDs.map((d, i) => [d, neutralDnds[i]]))
  .attr("d", d3.line().x(d => xC(d[0])).y(d => yC(d[1])))
  .attr("fill", "none").attr("stroke", "#000").attr("stroke-width", 5)
  .attr("stroke-dasharray", "23,10");

box(bC);
drawAxis(d3.axisBottom, xC, [1e-5, 1e-4, 1e-3, 1e-2], `translate(0,${bC.bottom})`, 11, { rich: pow10, pad: 10, size: 19 });
drawAxis(d3.axisBottom, xC, minorLog(1e-5, 1e-2), `translate(0,${bC.bottom})`, 6);
drawAxis(d3.axisTop, xCy, [100, 1000, 10000], `translate(0,${bC.top})`, 11, { rich: pow10, pad: 10, size: 18 });
drawAxis(d3.axisTop, xCy, minorLog(19, 18000), `translate(0,${bC.top})`, 6);
drawAxis(d3.axisLeft, yC, [0.1, 1], `translate(${bC.left},0)`, 11, { rich: pow10, pad: 5, size: 19 });
drawAxis(d3.axisLeft, yC, minorLog(0.05, 5), `translate(${bC.left},0)`, 6);

label(668, 635, [{ t: "MRCA (years)" }], 28, "middle");
label(668, 1161, [{ t: "d" }, { t: "S", sub: true, it: true }, { t: " (core genome synonymous divergence)" }], 28, "middle");
const yl = svg.append("text").attr("transform", "translate(50,880) rotate(-90)")
  .attr("text-anchor", "middle").attr("font-size", 28);
rich(yl, [{ t: "d" }, { t: "N", sub: true, it: true }, { t: "/d" }, { t: "S", sub: true, it: true }], 28);
label(81, 631, [{ t: "c" }], 48);

// legend c
const legC = [
  { s: seriesC[0], x: 872, y: 711 }, { s: seriesC[1], x: 872, y: 744 }, { s: seriesC[2], x: 872, y: 777 },
  { s: seriesC[3], x: 1059, y: 711 }, { s: seriesC[4], x: 1059, y: 744 }
];
legC.forEach(l => {
  svg.append("line").attr("x1", l.x).attr("x2", l.x + 46).attr("y1", l.y).attr("y2", l.y)
    .attr("stroke", l.s.c).attr("stroke-width", 5);
  label(l.x + 60, l.y + 7, l.s.name, 19, "start", MATH);
});
svg.append("line").attr("x1", 1059).attr("x2", 1105).attr("y1", 774).attr("y2", 774)
  .attr("stroke", "#000").attr("stroke-width", 5).attr("stroke-dasharray", "28,6");
label(1119, 781, [{ t: "d" }, { t: "N", sub: true, it: true }, { t: "/d" }, { t: "S", sub: true, it: true }, { t: "=1" }], 19, "start", MATH);
</script>
</body>
</html>
